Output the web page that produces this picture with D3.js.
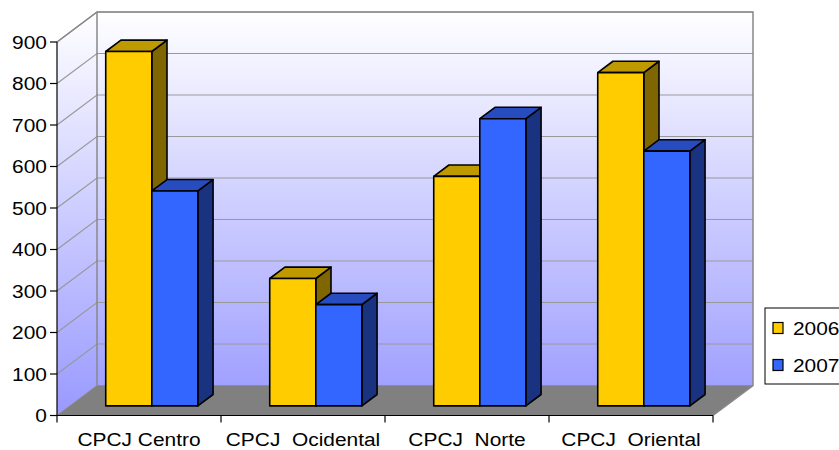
<!DOCTYPE html>
<html>
<head>
<meta charset="utf-8">
<script src="https://cdn.jsdelivr.net/npm/d3@7"></script>
<style>
  body { margin: 0; background: #fff; }
  text { font-family: "Liberation Sans", Arial, sans-serif; fill: #000; white-space: pre; }
</style>
</head>
<body>
<svg id="chart" width="839" height="450"></svg>
<script>
const categories = ["CPCJ Centro", "CPCJ  Ocidental", "CPCJ  Norte", "CPCJ  Oriental"]
const series = ["2006", "2007"]
const values2006 = [854, 307, 553, 803]
const values2007 = [518, 244, 692, 614]
const yTicks = [0, 100, 200, 300, 400, 500, 600, 700, 800, 900]

const colors = {
  "2006": { front: "#FFCC00", top: "#BF9900", side: "#806600" },
  "2007": { front: "#3366FF", top: "#264CBF", side: "#1A3380" }
}

// depth of the 3d box (oblique projection)
const DX = 40, DY = -30
const z0 = 0.32, z1 = 0.70
const textScale = 1.1
const fontSize = 19

const svg = d3.select("#chart")

const x = d3.scaleBand().domain(categories).range([57, 713])
const xSub = d3.scaleBand().domain(series).range([0, x.bandwidth()]).paddingInner(0).paddingOuter(0.78)
const y = d3.scaleLinear().domain([0, 900]).range([415.5, 42])

const x0 = x.range()[0], x1 = x.range()[1]
const yTop = y(900), yBot = y(0)

// gradient for walls
const defs = svg.append("defs")
const grad = defs.append("linearGradient")
  .attr("id", "wall").attr("gradientUnits", "userSpaceOnUse")
  .attr("x1", 0).attr("y1", yTop + DY).attr("x2", 0).attr("y2", yBot)
grad.append("stop").attr("offset", 0).attr("stop-color", "#FFFFFF")
grad.append("stop").attr("offset", 1).attr("stop-color", "#9999FF")

const line = d3.line()

// back wall
svg.append("path")
  .attr("d", line([[x0 + DX, yTop + DY], [x1 + DX, yTop + DY], [x1 + DX, yBot + DY], [x0 + DX, yBot + DY]]) + "Z")
  .attr("fill", "url(#wall)")
// side wall
svg.append("path")
  .attr("d", line([[x0, yTop], [x0 + DX, yTop + DY], [x0 + DX, yBot + DY], [x0, yBot]]) + "Z")
  .attr("fill", "url(#wall)")

// gridlines
yTicks.forEach(v => {
  svg.append("path")
    .attr("d", line([[x0, y(v)], [x0 + DX, y(v) + DY], [x1 + DX, y(v) + DY]]))
    .attr("fill", "none").attr("stroke", "#999").attr("stroke-width", 1.2)
})

// floor
svg.append("path")
  .attr("d", line([[x0, yBot], [x1, yBot], [x1 + DX, yBot + DY], [x0 + DX, yBot + DY]]) + "Z")
  .attr("fill", "#808080")

// wall edges
svg.append("path")
  .attr("d", line([[x0, yTop], [x0 + DX, yTop + DY], [x1 + DX, yTop + DY], [x1 + DX, yBot + DY], [x1, yBot]]))
  .attr("fill", "none").attr("stroke", "#888").attr("stroke-width", 1.5)
svg.append("path")
  .attr("d", line([[x0 + DX, yTop + DY], [x0 + DX, yBot + DY]]))
  .attr("fill", "none").attr("stroke", "#888").attr("stroke-width", 1.5)

// bars
const bars = []
categories.forEach((c, i) => {
  bars.push({ cat: c, s: "2006", v: values2006[i] })
  bars.push({ cat: c, s: "2007", v: values2007[i] })
})

bars.forEach(b => {
  const fx = x(b.cat) + xSub(b.s) + z0 * DX
  const w = xSub.bandwidth()
  const fy0 = y(0) + z0 * DY
  const fy1 = y(b.v) + z0 * DY
  const ddx = (z1 - z0) * DX, ddy = (z1 - z0) * DY
  const c = colors[b.s]
  const g = svg.append("g").attr("stroke", "#000").attr("stroke-width", 1.6).attr("stroke-linejoin", "round")
  g.append("path")
    .attr("d", line([[fx + w, fy1], [fx + w + ddx, fy1 + ddy], [fx + w + ddx, fy0 + ddy], [fx + w, fy0]]) + "Z")
    .attr("fill", c.side)
  g.append("path")
    .attr("d", line([[fx, fy1], [fx + ddx, fy1 + ddy], [fx + w + ddx, fy1 + ddy], [fx + w, fy1]]) + "Z")
    .attr("fill", c.top)
  g.append("rect")
    .attr("x", fx).attr("y", fy1).attr("width", w).attr("height", fy0 - fy1)
    .attr("fill", c.front)
})

// value axis
const yAxis = svg.append("g")
yAxis.append("line").attr("x1", x0).attr("x2", x0).attr("y1", yTop).attr("y2", yBot)
  .attr("stroke", "#000").attr("stroke-width", 1.2)
yTicks.forEach(v => {
  yAxis.append("line").attr("x1", x0 - 7).attr("x2", x0).attr("y1", y(v)).attr("y2", y(v))
    .attr("stroke", "#000").attr("stroke-width", 1.2)
  yAxis.append("text")
    .attr("transform", `translate(${x0 - 10},${y(v) + 6.8}) scale(${textScale},1)`)
    .attr("text-anchor", "end").attr("font-size", fontSize)
    .text(v)
})

// category axis
const xAxis = svg.append("g")
xAxis.append("line").attr("x1", x0).attr("x2", x1).attr("y1", yBot).attr("y2", yBot)
  .attr("stroke", "#000").attr("stroke-width", 1.2)
x.domain().concat([null]).forEach(c => {
  const tx = c === null ? x1 : x(c)
  xAxis.append("line").attr("x1", tx).attr("x2", tx).attr("y1", yBot).attr("y2", yBot + 7)
    .attr("stroke", "#000").attr("stroke-width", 1.2)
})
categories.forEach(c => {
  xAxis.append("text")
    .attr("transform", `translate(${x(c) + x.bandwidth() / 2},${yBot + 30}) scale(${textScale},1)`)
    .attr("text-anchor", "middle").attr("font-size", fontSize)
    .text(c)
})

// legend
const legend = svg.append("g").attr("transform", "translate(765,308)")
legend.append("rect").attr("x", 0).attr("y", 0).attr("width", 90).attr("height", 76)
  .attr("fill", "#fff").attr("stroke", "#000").attr("stroke-width", 1)
series.forEach((s, i) => {
  const gy = 20 + i * 37
  legend.append("rect").attr("x", 8).attr("y", gy - 5.5).attr("width", 10).attr("height", 11)
    .attr("fill", colors[s].front).attr("stroke", "#000").attr("stroke-width", 1.2)
  legend.append("text")
    .attr("transform", `translate(28,${gy + 6.8}) scale(${textScale},1)`)
    .attr("font-size", fontSize)
    .text(s)
})
</script>
</body>
</html>
